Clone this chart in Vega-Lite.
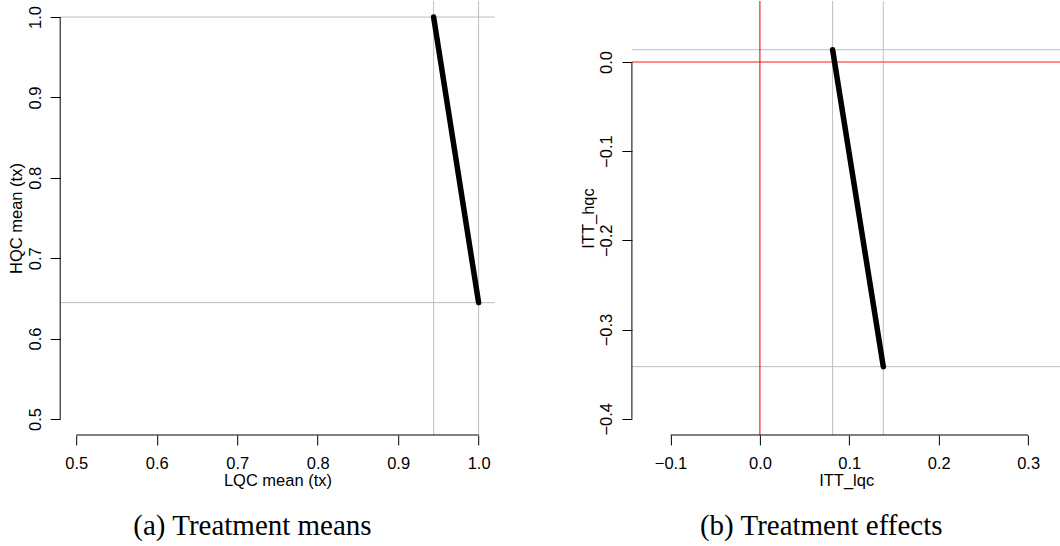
{
  "$schema": "https://vega.github.io/schema/vega-lite/v6.json",
  "background": "white",
  "padding": {"left": 8.2, "top": 0, "right": 0, "bottom": 0},
  "bounds": "flush",
  "spacing": 136.7,
  "datasets": {
    "means": [
      {"lqc": 0.9441, "hqc": 1.0},
      {"lqc": 1.0, "hqc": 0.6447}
    ],
    "effects": [
      {"itt_lqc": 0.0813, "itt_hqc": 0.0137},
      {"itt_lqc": 0.138, "itt_hqc": -0.3416}
    ]
  },
  "config": {
    "view": {"stroke": null},
    "axis": {
      "labelFont": "Liberation Sans", "labelFontSize": 16.5, "labelColor": "#000",
      "titleFont": "Liberation Sans", "titleFontSize": 16.5, "titleFontWeight": "normal", "titleColor": "#000",
      "tickColor": "#000", "tickSize": 10, "tickWidth": 1,
      "domain": false, "grid": false, "labelFlush": false, "labelOverlap": false, "format": ".1f"
    },
    "axisX": {"labelBaseline": "alphabetic", "labelPadding": 23.2, "labelAngle": 0, "labelAlign": "center", "titleBaseline": "alphabetic"},
    "axisY": {"labelAngle": -90, "labelAlign": "center", "labelBaseline": "alphabetic", "labelPadding": 10, "titleAngle": -90, "titleBaseline": "alphabetic", "titleAlign": "center"}
  },
  "hconcat": [
    {
      "width": 434.5,
      "height": 434,
      "title": {"text": "(a) Treatment means", "orient": "bottom", "anchor": "middle", "frame": "group", "font": "Liberation Serif", "fontSize": 29, "fontWeight": "normal", "color": "#000", "baseline": "alphabetic", "offset": 46, "dx": -25},
      "layer": [
        {
          "data": {"name": "means"},
          "mark": {"type": "rule", "color": "#bebebe", "strokeWidth": 1},
          "encoding": {
            "x": {"field": "lqc", "type": "quantitative", "title": "LQC mean (tx)", "scale": {"domain": [0.48, 1.02], "nice": false, "zero": false},
                  "axis": {"values": [0.5, 0.6, 0.7, 0.8, 0.9, 1.0], "titleY": 50.5}}
          }
        },
        {
          "data": {"name": "means"},
          "mark": {"type": "rule", "color": "#bebebe", "strokeWidth": 1},
          "encoding": {
            "y": {"field": "hqc", "type": "quantitative", "title": "HQC mean (tx)", "scale": {"domain": [0.48, 1.02], "nice": false, "zero": false},
                  "axis": {"values": [0.5, 0.6, 0.7, 0.8, 0.9, 1.0], "titleX": -38.5, "titleY": 217}}
          }
        },
        {
          "data": {"values": [{}]},
          "mark": {"type": "rule", "color": "#000", "strokeWidth": 1},
          "encoding": {
            "x": {"datum": 0.5, "type": "quantitative", "title": "LQC mean (tx)"},
            "x2": {"datum": 1.0},
            "y": {"datum": 0.48, "type": "quantitative", "title": "HQC mean (tx)"}
          }
        },
        {
          "data": {"values": [{}]},
          "mark": {"type": "rule", "color": "#000", "strokeWidth": 1},
          "encoding": {
            "y": {"datum": 0.5, "type": "quantitative", "title": "HQC mean (tx)"},
            "y2": {"datum": 1.0},
            "x": {"datum": 0.48, "type": "quantitative", "title": "LQC mean (tx)"}
          }
        },
        {
          "data": {"name": "means"},
          "mark": {"type": "line", "color": "#000", "strokeWidth": 5.5, "strokeCap": "round"},
          "encoding": {
            "x": {"field": "lqc", "type": "quantitative", "title": "LQC mean (tx)"},
            "y": {"field": "hqc", "type": "quantitative", "title": "HQC mean (tx)"}
          }
        }
      ]
    },
    {
      "width": 428.6,
      "height": 434,
      "title": {"text": "(b) Treatment effects", "orient": "bottom", "anchor": "middle", "frame": "group", "font": "Liberation Serif", "fontSize": 29, "fontWeight": "normal", "color": "#000", "baseline": "alphabetic", "offset": 46, "dx": -25},
      "layer": [
        {
          "data": {"name": "effects"},
          "mark": {"type": "rule", "color": "#bebebe", "strokeWidth": 1},
          "encoding": {
            "x": {"field": "itt_lqc", "type": "quantitative", "title": "ITT_lqc", "scale": {"domain": [-0.1432, 0.3362], "nice": false, "zero": false},
                  "axis": {"values": [-0.1, 0.0, 0.1, 0.2, 0.3], "titleY": 50.5}}
          }
        },
        {
          "data": {"name": "effects"},
          "mark": {"type": "rule", "color": "#bebebe", "strokeWidth": 1},
          "encoding": {
            "y": {"field": "itt_hqc", "type": "quantitative", "title": "ITT_hqc", "scale": {"domain": [-0.4182, 0.0683], "nice": false, "zero": false},
                  "axis": {"values": [-0.4, -0.3, -0.2, -0.1, 0.0], "titleX": -38.5, "titleY": 217}}
          }
        },
        {
          "data": {"values": [{}]},
          "mark": {"type": "rule", "color": "#ff6666", "strokeWidth": 1.6},
          "encoding": {
            "y": {"datum": 0, "type": "quantitative", "title": "ITT_hqc"}
          }
        },
        {
          "data": {"values": [{}]},
          "mark": {"type": "rule", "color": "#dd0000", "strokeWidth": 1},
          "encoding": {
            "x": {"datum": 0, "type": "quantitative", "title": "ITT_lqc"}
          }
        },
        {
          "data": {"values": [{}]},
          "mark": {"type": "rule", "color": "#000", "strokeWidth": 1},
          "encoding": {
            "x": {"datum": -0.1, "type": "quantitative", "title": "ITT_lqc"},
            "x2": {"datum": 0.3},
            "y": {"datum": -0.4182, "type": "quantitative", "title": "ITT_hqc"}
          }
        },
        {
          "data": {"values": [{}]},
          "mark": {"type": "rule", "color": "#000", "strokeWidth": 1},
          "encoding": {
            "y": {"datum": -0.4, "type": "quantitative", "title": "ITT_hqc"},
            "y2": {"datum": 0.0},
            "x": {"datum": -0.1432, "type": "quantitative", "title": "ITT_lqc"}
          }
        },
        {
          "data": {"name": "effects"},
          "mark": {"type": "line", "color": "#000", "strokeWidth": 5.5, "strokeCap": "round"},
          "encoding": {
            "x": {"field": "itt_lqc", "type": "quantitative", "title": "ITT_lqc"},
            "y": {"field": "itt_hqc", "type": "quantitative", "title": "ITT_hqc"}
          }
        }
      ]
    }
  ]
}
